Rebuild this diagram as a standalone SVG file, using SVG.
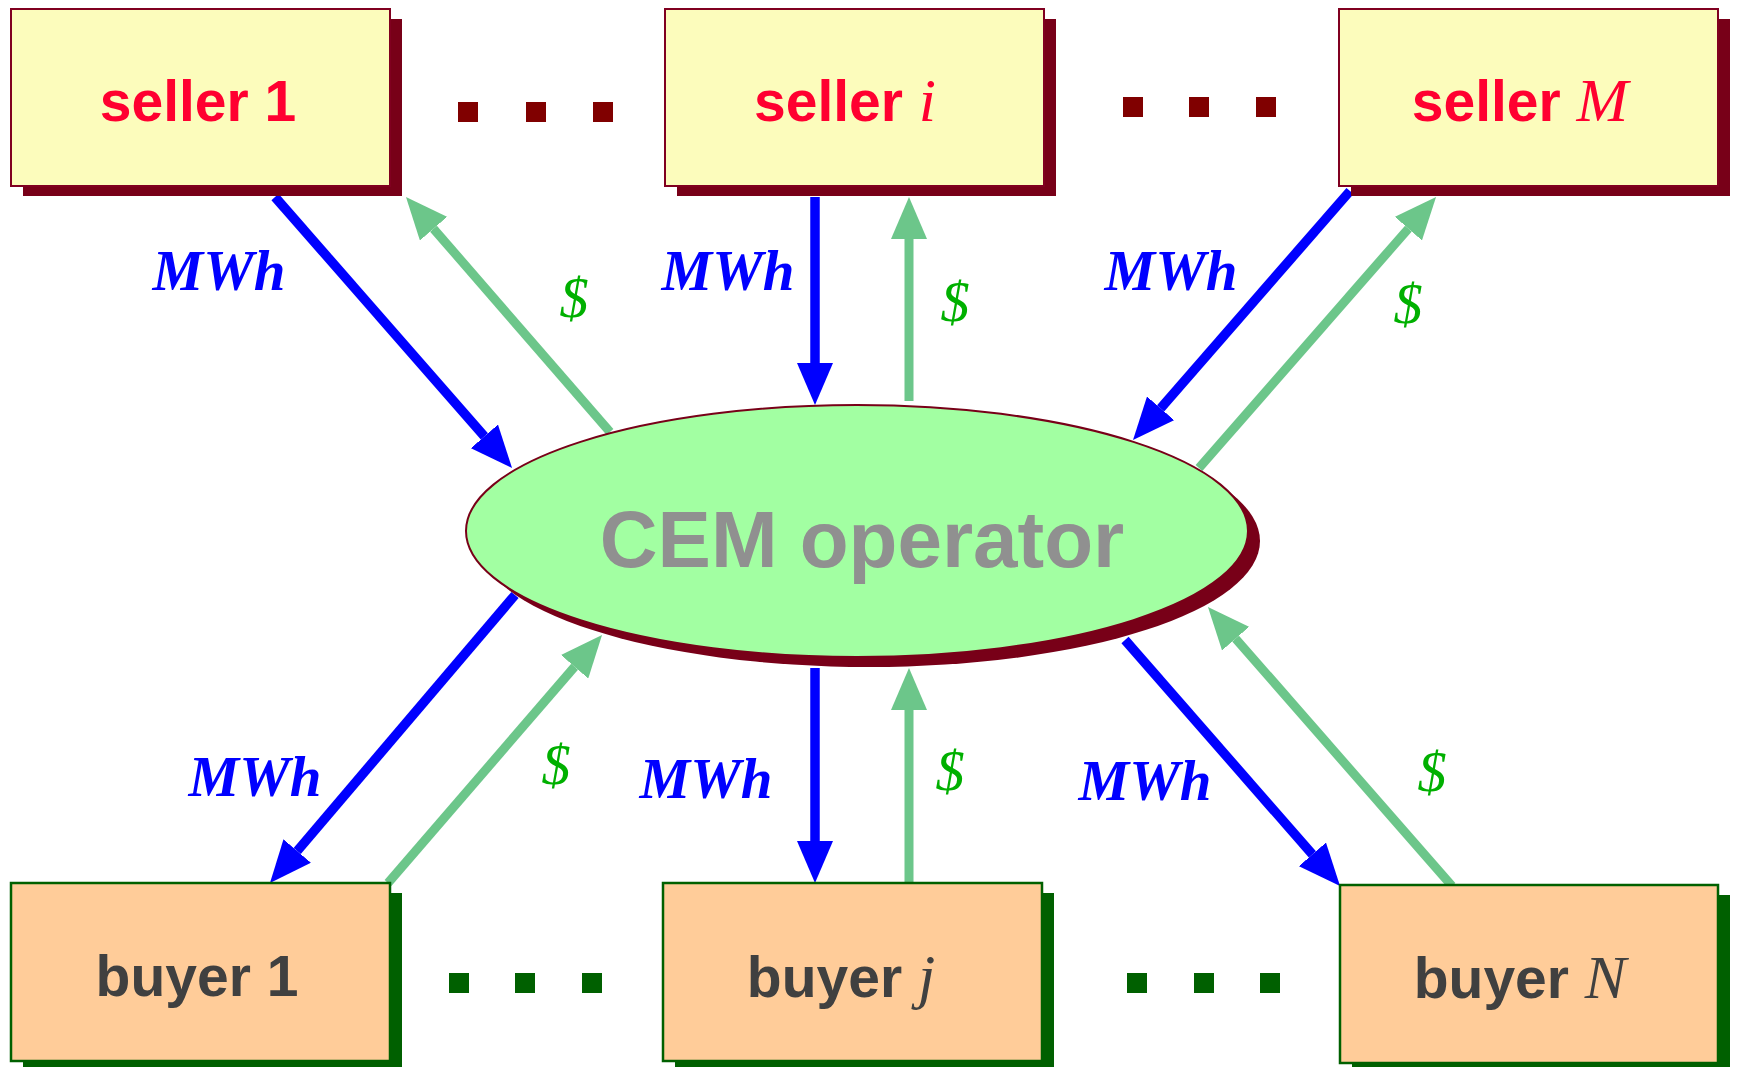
<svg xmlns="http://www.w3.org/2000/svg" width="1738" height="1067" viewBox="0 0 1738 1067">
<style>
.sbox{fill:#FCFCBC;stroke:#800020;stroke-width:2}
.sshadow{fill:#780018}
.bbox{fill:#FFCC99;stroke:#006000;stroke-width:2.5}
.bshadow{fill:#006000}
.lbl{font-family:"Liberation Sans",Arial,sans-serif;font-weight:bold;font-size:57px;text-anchor:middle}
.sl{fill:#FF0030}
.bl{fill:#404040}
.it{font-family:"Liberation Serif","Times New Roman",serif;font-style:italic;font-weight:normal;font-size:62px}
.blue{stroke:#0000FF;stroke-width:9.5;fill:none;marker-end:url(#hb)}
.green{stroke:#6CC68A;stroke-width:9;fill:none;marker-end:url(#hg)}
.mwh{font-family:"Liberation Serif","Times New Roman",serif;font-style:italic;font-weight:bold;font-size:57px;fill:#0000FF;text-anchor:middle}
.dol{font-family:"Liberation Serif","Times New Roman",serif;font-style:italic;font-size:58px;fill:#00B000;text-anchor:middle}
.rd{fill:#800000}
.gd{fill:#006000}
</style>
<defs>
<marker id="hb" markerUnits="userSpaceOnUse" viewBox="0 0 42 36" refX="0" refY="18" markerWidth="42" markerHeight="36" orient="auto">
<path d="M0,0 L42,18 L0,36 z" fill="#0000FF"/>
</marker>
<marker id="hg" markerUnits="userSpaceOnUse" viewBox="0 0 42 36" refX="0" refY="18" markerWidth="42" markerHeight="36" orient="auto">
<path d="M0,0 L42,18 L0,36 z" fill="#6CC68A"/>
</marker>
</defs>
<rect width="1738" height="1067" fill="#FFFFFF"/>

<g id="connectors">
<line class="blue" x1="275" y1="197" x2="484.4" y2="436.4"/>
<line class="blue" x1="815" y1="197" x2="815" y2="363"/>
<line class="blue" x1="1350" y1="191" x2="1160.6" y2="408.3"/>
<line class="green" x1="610" y1="432" x2="433.5" y2="228.7"/>
<line class="green" x1="909" y1="401" x2="909" y2="239"/>
<line class="green" x1="1199" y1="468" x2="1408.4" y2="228.6"/>
<line class="blue" x1="515" y1="595" x2="297.2" y2="851"/>
<line class="green" x1="388" y1="883" x2="574.6" y2="666.8"/>
<line class="blue" x1="815" y1="668" x2="815" y2="841"/>
<line class="green" x1="909" y1="883" x2="909" y2="710"/>
<line class="blue" x1="1125" y1="640" x2="1312.4" y2="854.4"/>
<line class="green" x1="1452" y1="886" x2="1235.6" y2="638.6"/>
<text class="mwh" x="219" y="290">MWh</text>
<text class="mwh" x="728" y="290">MWh</text>
<text class="mwh" x="1171" y="290">MWh</text>
<text class="mwh" x="255" y="796">MWh</text>
<text class="mwh" x="706" y="798">MWh</text>
<text class="mwh" x="1145" y="800">MWh</text>
<text class="dol" x="574" y="317">$</text>
<text class="dol" x="955" y="321">$</text>
<text class="dol" x="1408" y="323">$</text>
<text class="dol" x="556" y="784">$</text>
<text class="dol" x="950" y="790">$</text>
<text class="dol" x="1432" y="791">$</text>
</g>

<g id="cem">
<ellipse cx="869" cy="541" rx="391" ry="126" fill="#780018"/>
<ellipse cx="857" cy="531" rx="391" ry="126" fill="#A2FFA2" stroke="#780018" stroke-width="2"/>
<text x="862" y="567" font-family="'Liberation Sans',Arial,sans-serif" font-weight="bold" font-size="80" fill="#909090" text-anchor="middle">CEM operator</text>
</g>

<g id="seller1">
<rect class="sshadow" x="23" y="19" width="379" height="177"/>
<rect class="sbox" x="11" y="9" width="379" height="177"/>
<text class="lbl sl" x="198" y="121">seller 1</text>
</g>
<g id="selleri">
<rect class="sshadow" x="677" y="19" width="379" height="177"/>
<rect class="sbox" x="665" y="9" width="379" height="177"/>
<text class="lbl sl" x="845" y="121">seller <tspan class="it">i</tspan></text>
</g>
<g id="sellerM">
<rect class="sshadow" x="1351" y="19" width="379" height="177"/>
<rect class="sbox" x="1339" y="9" width="379" height="177"/>
<text class="lbl sl" x="1520" y="121">seller <tspan class="it">M</tspan></text>
</g>

<g id="buyer1">
<rect class="bshadow" x="23" y="893" width="379" height="178"/>
<rect class="bbox" x="11" y="883" width="379" height="178"/>
<text class="lbl bl" x="197" y="996">buyer 1</text>
</g>
<g id="buyerj">
<rect class="bshadow" x="675" y="893" width="379" height="178"/>
<rect class="bbox" x="663" y="883" width="379" height="178"/>
<text class="lbl bl" x="841" y="997">buyer <tspan class="it">j</tspan></text>
</g>
<g id="buyerN">
<rect class="bshadow" x="1352" y="895" width="378" height="178"/>
<rect class="bbox" x="1340" y="885" width="378" height="178"/>
<text class="lbl bl" x="1520" y="998">buyer <tspan class="it">N</tspan></text>
</g>

<g id="dots">
<rect class="rd" x="458" y="102" width="20" height="20"/>
<rect class="rd" x="526" y="102" width="20" height="20"/>
<rect class="rd" x="593" y="102" width="20" height="20"/>
<rect class="rd" x="1123" y="97" width="20" height="20"/>
<rect class="rd" x="1189" y="97" width="20" height="20"/>
<rect class="rd" x="1256" y="97" width="20" height="20"/>
<rect class="gd" x="449" y="973" width="20" height="20"/>
<rect class="gd" x="515" y="973" width="20" height="20"/>
<rect class="gd" x="582" y="973" width="20" height="20"/>
<rect class="gd" x="1127" y="973" width="20" height="20"/>
<rect class="gd" x="1194" y="973" width="20" height="20"/>
<rect class="gd" x="1260" y="973" width="20" height="20"/>
</g>
</svg>
